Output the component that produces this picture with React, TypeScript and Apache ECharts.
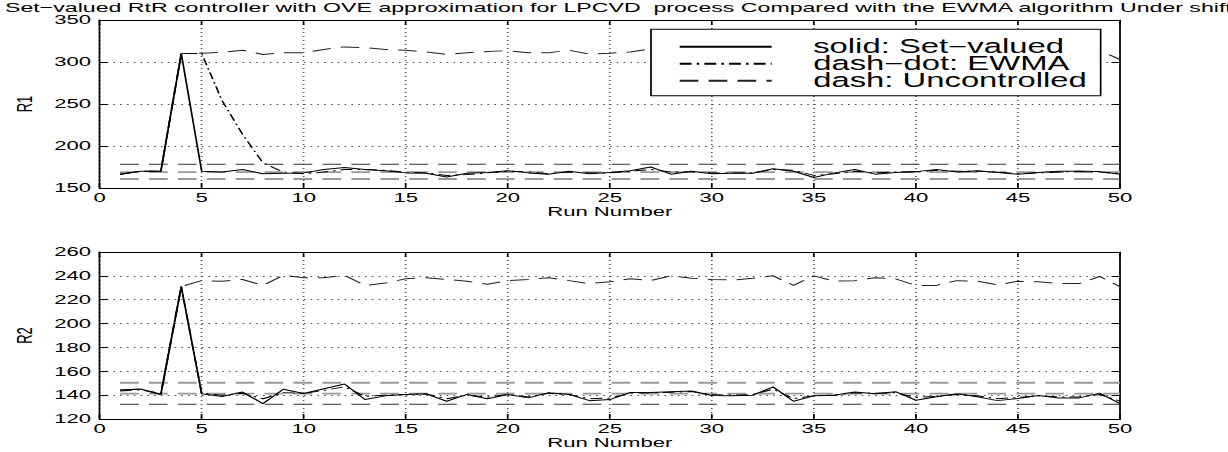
import React, { useEffect, useRef } from "react";
import * as echarts from "echarts";

// ---------------- data ----------------
const runs = [1, 2, 3, 4, 5, 6, 7, 8, 9, 10, 11, 12, 13, 14, 15, 16, 17, 18, 19, 20, 21, 22, 23, 24, 25, 26, 27, 28, 29, 30, 31, 32, 33, 34, 35, 36, 37, 38, 39, 40, 41, 42, 43, 44, 45, 46, 47, 48, 49, 50];

const r1SetValued = [166.5, 170, 170, 310, 170, 169, 172, 167, 167.5, 168, 172, 174.5, 172, 170.5, 168, 167.5, 163, 167.5, 168.5, 170.5, 168, 166.5, 170, 167, 168.5, 170.5, 175, 166.5, 170, 167, 167.5, 167.5, 173, 170, 162.5, 168, 172, 166.5, 168.5, 169.5, 172, 169, 170.5, 168.5, 166.5, 168.5, 170, 170, 169.5, 166.5];
const r1Ewma = [166.5, 170, 170, 310, 310, 254, 214, 180, 169, 167, 169, 172, 172, 171, 169, 168, 165, 166, 168, 170, 169, 167, 169, 168, 168, 170, 172, 169, 169, 168, 168, 168, 172, 171, 165, 167, 170, 168, 169, 169, 171, 170, 170, 169, 167, 168, 169, 170, 169, 167];
const r1Uncontrolled = [166.5, 170, 170, 310, 310.5, 311.5, 314, 309, 311, 311, 315, 318, 317, 315, 314, 312, 309, 311, 312.5, 313.5, 311, 311, 314, 309.5, 310.5, 312, 315.5, 313, 311, 312, 314, 310, 313, 315, 311, 312, 314, 312, 310, 313, 315, 312, 311, 313, 310, 312, 314, 313, 314, 303];
const r1Limits = [178.2, 169, 160.7];

const r2SetValued = [144.3, 145.1, 140.6, 231, 141.1, 138.9, 142.6, 132.9, 144.9, 141.4, 145.4, 149.4, 136.3, 139.4, 140.6, 141.1, 134.9, 140.6, 136.9, 140.6, 137.7, 142, 140.6, 135.4, 136.3, 142.3, 142.3, 142.9, 143.4, 139.7, 139.4, 140, 146.9, 134.9, 139.4, 140, 142.6, 141.1, 142.9, 135.7, 138.6, 141.1, 138.6, 135.4, 137.1, 139.7, 137.7, 137.7, 141.7, 132.9];
const r2Ewma = [143.4, 144.5, 141.5, 231, 141.5, 140, 141.5, 137, 142, 141.5, 144, 147, 139, 140, 140.5, 141, 137, 140, 138.5, 140.5, 138.5, 141.5, 140.5, 137, 137.5, 141.5, 142, 142.5, 143, 140.5, 140, 140.5, 145, 137, 139.5, 140, 142, 141.5, 142, 138, 139, 140.5, 139.5, 137, 138, 139.5, 138.5, 138.5, 140.5, 135];
const r2Uncontrolled = [144.3, 145.1, 140.6, 231, 236, 235.5, 237, 232, 240.5, 238.5, 238.5, 240.5, 232, 234, 237.5, 238.5, 237, 235.5, 233, 236, 237, 238.5, 236, 233.5, 235, 237.5, 236, 240, 238, 237, 236.5, 238, 240, 232, 240, 235.5, 236, 238.5, 237.5, 232, 232, 236, 235.5, 232.5, 235.5, 235, 233.5, 233.5, 239.5, 231];
const r2Limits = [150.4, 141.2, 132.3];

const xTicks = { min: 0, max: 50, interval: 5 };
const r1Ticks = { min: 150, max: 350, interval: 50 };
const r2Ticks = { min: 120, max: 260, interval: 20 };

const titleText = "Set\u2212valued RtR controller with OVE approximation for LPCVD  process Compared with the EWMA algorithm Under shift";
const nameSolid = "solid: Set\u2212valued";
const nameEwma = "dash\u2212dot: EWMA";
const nameUnc = "dash: Uncontrolled";

// ---------------- layout ----------------
const W = 722;
const SX = 1228 / W; // horizontal stretch of the original figure
const FONT = "'Liberation Sans', Arial, Helvetica, sans-serif";
const fx = (v: number) => v / SX;

const DASH = [11, 6];
const DASHDOT = [7, 3, 1.5, 3];

function pairs(vals: number[]) {
  return runs.map((r, i) => [r, vals[i]]);
}

function lineSeries(name: string, vals: number[], axis: number, type: any, color = "#000", width = 1) {
  return {
    type: "line",
    name,
    xAxisIndex: axis,
    yAxisIndex: axis,
    data: pairs(vals),
    symbol: "none",
    showSymbol: false,
    silent: true,
    itemStyle: { color, opacity: 0 },
    lineStyle: { color, width, type },
    emphasis: { disabled: true },
  };
}

function hLine(v: number, axis: number, color: string, width: number) {
  return {
    type: "line",
    name: "limit",
    xAxisIndex: axis,
    yAxisIndex: axis,
    data: [
      [runs[0], v],
      [runs[runs.length - 1], v],
    ],
    symbol: "none",
    silent: true,
    itemStyle: { color },
    lineStyle: { color, width, type: DASH },
    emphasis: { disabled: true },
  };
}

function xAxes(gridIndex: number) {
  const common = {
    type: "value",
    gridIndex,
    ...xTicks,
    axisLine: { show: true, onZero: false, lineStyle: { color: "#000", width: 1 } },
    axisTick: { show: true, inside: true, length: 5, lineStyle: { color: "#000" } },
  };
  return [
    {
      ...common,
      position: "bottom",
      axisLabel: { show: true, color: "#000", fontSize: 13, margin: 3, fontFamily: FONT },
      splitLine: { show: true, lineStyle: { color: "#555", width: 1, type: [1, 3] } },
      name: "Run Number",
      nameLocation: "middle",
      nameGap: 15.5,
      nameTextStyle: { color: "#000", fontSize: 13, fontFamily: FONT },
    },
    {
      ...common,
      position: "top",
      axisLabel: { show: false },
      splitLine: { show: false },
    },
  ];
}

function yAxes(gridIndex: number, ticks: any, name: string) {
  const common = {
    type: "value",
    gridIndex,
    ...ticks,
    axisLine: { show: true, onZero: false, lineStyle: { color: "#000", width: 1 } },
    axisTick: { show: true, inside: true, length: 5, lineStyle: { color: "#000" } },
  };
  return [
    {
      ...common,
      position: "left",
      axisLabel: { show: true, color: "#000", fontSize: 13, margin: 5, fontFamily: FONT },
      splitLine: { show: true, lineStyle: { color: "#555", width: 1, type: [1, 3] } },
      name,
      nameLocation: "middle",
      nameRotate: 90,
      nameGap: 31,
      nameTextStyle: { color: "#000", fontSize: 13, fontFamily: FONT },
    },
    {
      ...common,
      position: "right",
      axisLabel: { show: false },
      splitLine: { show: false },
    },
  ];
}

export default function App() {
  const ref = useRef<HTMLDivElement>(null);
  useEffect(() => {
    if (!ref.current) return;
    const chart = echarts.init(ref.current, null, { renderer: "svg" });
    const gridLeft = fx(95);
    const gridWidth = fx(1120 - 95);
    const option: any = {
      animation: false,
      backgroundColor: "#fff",
      textStyle: { fontFamily: FONT },
      title: {
        text: titleText,
        left: fx(5),
        top: 0.5,
        padding: 0,
        textStyle: { fontSize: 13.6, fontWeight: "normal", color: "#000", fontFamily: FONT },
      },
      legend: {
        data: [nameSolid, nameEwma, nameUnc],
        orient: "vertical",
        left: fx(651),
        top: 29.3,
        padding: [8, fx(14), 5.5, fx(27)],
        itemGap: -2,
        itemWidth: fx(92),
        itemHeight: 14,
        selectedMode: false,
        backgroundColor: "#fff",
        borderColor: "#000",
        borderWidth: 1,
        borderRadius: 0,
        itemStyle: { opacity: 0, borderWidth: 0 },
        textStyle: {
          color: "#000",
          fontSize: 19.3,
          fontFamily: FONT,
          padding: [0, 0, 0, fx(33)],
        },
      },
      grid: [
        { left: gridLeft, top: 20, width: gridWidth, height: 168, containLabel: false },
        { left: gridLeft, top: 252, width: gridWidth, height: 167, containLabel: false },
      ],
      xAxis: [...xAxes(0), ...xAxes(1)],
      yAxis: [...yAxes(0, r1Ticks, "R1"), ...yAxes(1, r2Ticks, "R2")],
      series: [
        hLine(r1Limits[0], 0, "#333", 1),
        hLine(r1Limits[1], 0, "#999", 1.8),
        hLine(r1Limits[2], 0, "#333", 1),
        lineSeries(nameUnc, r1Uncontrolled, 0, DASH, "#222", 1),
        lineSeries(nameEwma, r1Ewma, 0, DASHDOT, "#000", 1),
        lineSeries(nameSolid, r1SetValued, 0, "solid", "#000", 1),
        hLine(r2Limits[0], 2, "#999", 1.8),
        hLine(r2Limits[1], 2, "#999", 1.8),
        hLine(r2Limits[2], 2, "#333", 1),
        lineSeries(nameUnc, r2Uncontrolled, 2, DASH, "#222", 1),
        lineSeries(nameEwma, r2Ewma, 2, DASHDOT, "#000", 1),
        lineSeries(nameSolid, r2SetValued, 2, "solid", "#000", 1),
      ],
    };
    chart.setOption(option);
    return () => chart.dispose();
  }, []);
  return (
    <div
      ref={ref}
      style={{
        position: "absolute",
        left: 0,
        top: 0,
        width: W,
        height: 452,
        transform: `scaleX(${SX})`,
        transformOrigin: "0 0",
        background: "#fff",
      }}
    />
  );
}
